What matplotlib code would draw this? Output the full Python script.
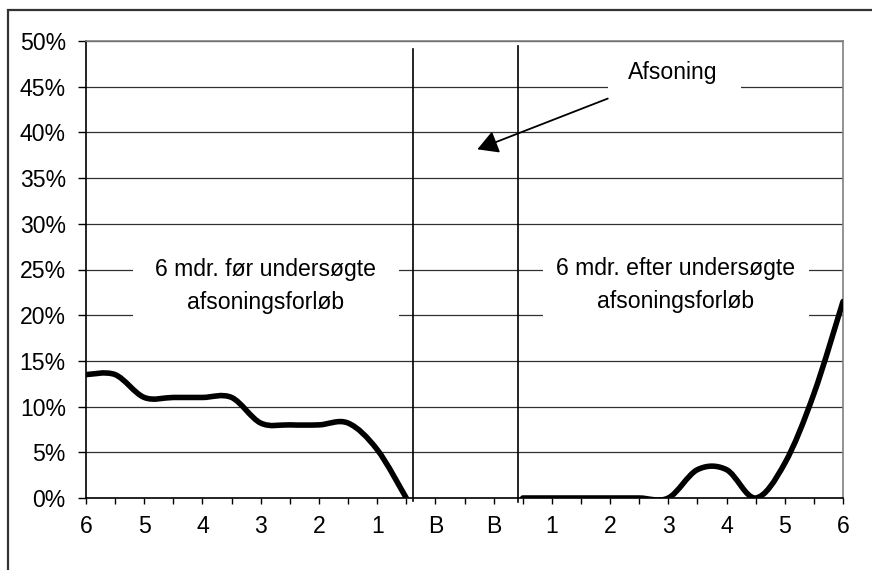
import numpy as np
import matplotlib
matplotlib.use("Agg")
import matplotlib.pyplot as plt
from matplotlib.path import Path
from matplotlib.patches import PathPatch, Rectangle

plt.rcParams['font.family'] = ['Liberation Sans', 'DejaVu Sans']

# Month labels on the category axis (one label every second tick)
month_labels = ['6', '5', '4', '3', '2', '1', 'B', 'B', '1', '2', '3', '4', '5', '6']

# Share (%) at each half-month position; NaN = no observation (during the sentence)
share_pct = [13.5, 13.5, 11.0, 11.0, 11.0, 11.0, 8.2, 8.0, 8.0, 8.2, 5.3, 0.0,
             np.nan, np.nan, np.nan,
             0.0, 0.0, 0.0, 0.0, 0.0, 0.0, 3.1, 3.1, 0.0, 3.8, 11.4, 21.5]

y_ticks = list(range(0, 55, 5))

FS = 16.6


def smoothed_path(xs, ys):
    """Bezier path through the points, same construction as a spreadsheet 'smoothed line'."""
    pts = np.column_stack([xs, ys])
    n = len(pts)
    verts = [tuple(pts[0])]
    codes = [Path.MOVETO]
    for i in range(n - 1):
        p_prev = pts[i - 1] if i > 0 else pts[i]
        p_next2 = pts[i + 2] if i + 2 < n else pts[i + 1]
        c1 = pts[i] + (pts[i + 1] - p_prev) / 6.0
        c2 = pts[i + 1] - (p_next2 - pts[i]) / 6.0
        verts += [tuple(c1), tuple(c2), tuple(pts[i + 1])]
        codes += [Path.CURVE4] * 3
    return Path(verts, codes)


fig = plt.figure(figsize=(8.72, 5.70), dpi=100)
ax = fig.add_axes([86 / 872, 1 - 498 / 570, (843 - 86) / 872, (498 - 41) / 570])

x = np.arange(len(share_pct))
y = np.array(share_pct, dtype=float)

# draw each contiguous run of observations as a smoothed curve
valid = ~np.isnan(y)
start = None
for i in range(len(y) + 1):
    ok = i < len(y) and valid[i]
    if ok and start is None:
        start = i
    elif not ok and start is not None:
        path = smoothed_path(x[start:i], y[start:i])
        ax.add_patch(PathPatch(path, facecolor='none', edgecolor='black',
                               lw=4.0, capstyle='round', joinstyle='round', zorder=3))
        start = None

ax.set_xlim(0, len(share_pct) - 1)
ax.set_ylim(0, 50)

# axes, ticks and grid
ax.set_axisbelow(True)
ax.yaxis.grid(True, color='#303030', lw=0.9)
ax.set_yticks(y_ticks)
ax.set_yticklabels([f'{v}%' for v in y_ticks], fontsize=FS)
ax.set_xticks(x)
xt = []
for i in range(len(share_pct)):
    xt.append(month_labels[i // 2] if i % 2 == 0 else '')
ax.set_xticklabels(xt, fontsize=FS)
ax.tick_params(axis='y', direction='out', length=6, width=1.0, pad=8.5)
ax.tick_params(axis='x', direction='out', length=4.5, width=1.0, pad=8)

for side in ('left', 'bottom'):
    ax.spines[side].set_color('black')
    ax.spines[side].set_linewidth(1.2)
for side in ('top', 'right'):
    ax.spines[side].set_color('#808080')
    ax.spines[side].set_linewidth(1.2)

# vertical separators around the sentence period
ax.plot([11.23, 11.23], [-0.3, 49.1], color='black', lw=1.2, clip_on=False, zorder=2.6)
ax.plot([14.83, 14.83], [-0.4, 49.5], color='black', lw=1.2, clip_on=False, zorder=2.6)

# white text boxes over the gridlines
for (x0, x1, y0, y1) in [(1.60, 10.76, 17.6, 27.6),
                         (15.68, 24.84, 17.6, 27.6),
                         (17.93, 22.50, 43.6, 48.6)]:
    ax.add_patch(Rectangle((x0, y0), x1 - x0, y1 - y0, fc='white', ec='none', zorder=2.1))

ax.text(6.18, 23.2, '6 mdr. før undersøgte\nafsoningsforløb', ha='center', va='center',
        fontsize=FS, linespacing=1.57, zorder=2.2)
ax.text(20.24, 23.3, '6 mdr. efter undersøgte\nafsoningsforløb', ha='center', va='center',
        fontsize=FS, linespacing=1.57, zorder=2.2)
ax.text(20.16, 46.6, 'Afsoning', ha='center', va='center', fontsize=FS, zorder=2.2)
ax.annotate('', xy=(13.44, 38.15), xytext=(17.92, 43.7),
            arrowprops=dict(arrowstyle='-|>,head_length=0.5,head_width=0.28',
                            color='black', lw=1.3, mutation_scale=25,
                            shrinkA=0, shrinkB=0), zorder=4)

# outer chart frame
fig.patches.append(Rectangle((8 / 872, -0.05), 1.1, 1 - 10 / 570 + 0.05,
                             transform=fig.transFigure, fill=False,
                             ec='#333333', lw=1.6))

fig.savefig('out.png', dpi=100)
